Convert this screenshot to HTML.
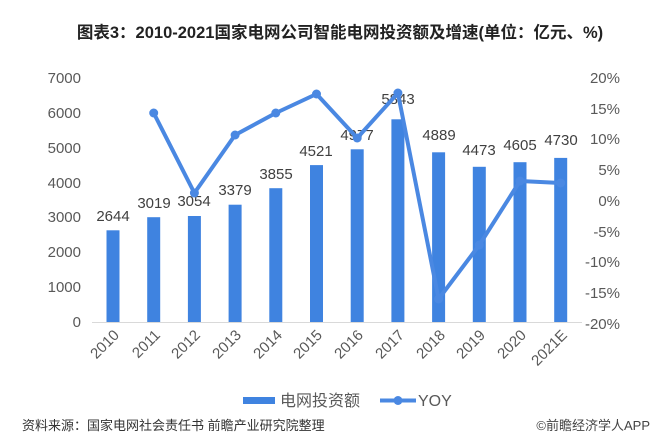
<!DOCTYPE html>
<html><head><meta charset="utf-8"><style>
body{margin:0;background:#fff;}
svg{display:block;font-family:"Liberation Sans","Noto Sans CJK SC",sans-serif;}
</style></head><body>
<svg width="661" height="438" viewBox="0 0 661 438" xmlns="http://www.w3.org/2000/svg">
<text x="340" y="38" text-anchor="middle" font-size="16.5" font-weight="bold" fill="#222" font-family="Liberation Sans,'Noto Sans CJK SC',sans-serif">图表3：2010-2021国家电网公司智能电网投资额及增速(单位：亿元、%)</text>
<g font-size="15" fill="#595959" text-anchor="end">
<text x="81" y="83">7000</text><text x="81" y="118">6000</text><text x="81" y="153">5000</text><text x="81" y="188">4000</text><text x="81" y="222">3000</text><text x="81" y="257">2000</text><text x="81" y="292">1000</text><text x="81" y="327">0</text>
</g>
<g font-size="15" fill="#595959" text-anchor="end">
<text x="620" y="83">20%</text><text x="620" y="114">15%</text><text x="620" y="144">10%</text><text x="620" y="175">5%</text><text x="620" y="206">0%</text><text x="620" y="237">-5%</text><text x="620" y="267">-10%</text><text x="620" y="298">-15%</text><text x="620" y="329">-20%</text>
</g>
<line x1="92" y1="322.5" x2="582" y2="322.5" stroke="#d9d9d9" stroke-width="1"/>
<g fill="#3f83e0">
<rect x="106.5" y="230.3" width="13" height="91.7"/>
<rect x="147.2" y="217.2" width="13" height="104.8"/>
<rect x="187.9" y="216" width="13" height="106"/>
<rect x="228.6" y="204.7" width="13" height="117.3"/>
<rect x="269.3" y="188.2" width="13" height="133.8"/>
<rect x="310" y="165.1" width="13" height="156.9"/>
<rect x="350.7" y="149.3" width="13" height="172.7"/>
<rect x="391.4" y="119.3" width="13" height="202.7"/>
<rect x="432.1" y="152.3" width="13" height="169.7"/>
<rect x="472.8" y="166.8" width="13" height="155.2"/>
<rect x="513.5" y="162.2" width="13" height="159.8"/>
<rect x="554.2" y="157.9" width="13" height="164.1"/>
</g>
<g font-size="15" fill="#404040" text-anchor="middle">
<text x="113" y="221">2644</text><text x="154" y="208">3019</text><text x="194" y="206">3054</text><text x="235" y="195">3379</text><text x="276" y="179">3855</text><text x="316" y="156">4521</text><text x="357" y="140">4977</text><text x="398" y="104">5843</text><text x="439" y="140">4889</text><text x="479" y="155">4473</text><text x="520" y="150">4605</text><text x="561" y="145">4730</text>
</g>
<polyline points="153.7,113 194.4,193 235.1,135 275.8,113 316.5,94 357.2,138 397.9,93 438.6,299 479.3,245 520,181 560.7,183" fill="none" stroke="#4a88e2" stroke-width="4" stroke-linejoin="round"/>
<g fill="#4a88e2">
<circle cx="153.7" cy="113" r="4.5"/><circle cx="194.4" cy="193" r="4.5"/><circle cx="235.1" cy="135" r="4.5"/><circle cx="275.8" cy="113" r="4.5"/><circle cx="316.5" cy="94" r="4.5"/><circle cx="357.2" cy="138" r="4.5"/><circle cx="397.9" cy="93" r="4.5"/><circle cx="438.6" cy="299" r="4.5"/><circle cx="479.3" cy="245" r="4.5"/><circle cx="520" cy="181" r="4.5"/><circle cx="560.7" cy="183" r="4.5"/>
</g>
<g font-size="15" fill="#595959" text-anchor="end">
<text transform="translate(120,336) rotate(-45)">2010</text>
<text transform="translate(161,336) rotate(-45)">2011</text>
<text transform="translate(201,336) rotate(-45)">2012</text>
<text transform="translate(242,336) rotate(-45)">2013</text>
<text transform="translate(283,336) rotate(-45)">2014</text>
<text transform="translate(323,336) rotate(-45)">2015</text>
<text transform="translate(364,336) rotate(-45)">2016</text>
<text transform="translate(405,336) rotate(-45)">2017</text>
<text transform="translate(446,336) rotate(-45)">2018</text>
<text transform="translate(486,336) rotate(-45)">2019</text>
<text transform="translate(527,336) rotate(-45)">2020</text>
<text transform="translate(568,336) rotate(-45)">2021E</text>
</g>
<rect x="243" y="397" width="32" height="7" fill="#3f83e0"/>
<text x="280" y="406" font-size="16" fill="#595959">电网投资额</text>
<line x1="380" y1="400.5" x2="416" y2="400.5" stroke="#4a88e2" stroke-width="4"/>
<circle cx="398" cy="400.5" r="4.5" fill="#4a88e2"/>
<text x="418" y="406" font-size="16" fill="#595959">YOY</text>
<text x="22" y="430" font-size="13" fill="#333">资料来源：国家电网社会责任书 前瞻产业研究院整理</text>
<text x="650" y="430" font-size="13" fill="#444" text-anchor="end">©前瞻经济学人APP</text>
</svg>
</body></html>
